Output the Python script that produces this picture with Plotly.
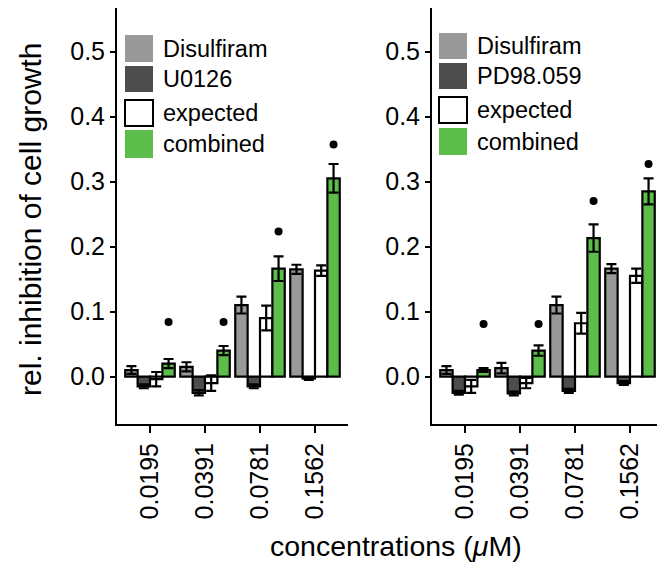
import plotly.graph_objects as go

W, H = 657, 564

concentrations = ["0.0195", "0.0391", "0.0781", "0.1562"]
series_names_left = ["Disulfiram", "U0126", "expected", "combined"]
series_names_right = ["Disulfiram", "PD98.059", "expected", "combined"]

# Left panel (Disulfiram + U0126)
left_disulfiram = [0.010, 0.015, 0.110, 0.165]
left_disulfiram_err = [0.006, 0.007, 0.013, 0.007]
left_u0126 = [-0.015, -0.025, -0.015, -0.003]
left_u0126_err = [0.003, 0.004, 0.003, 0.002]
left_expected = [-0.004, -0.010, 0.090, 0.163]
left_expected_err = [0.011, 0.012, 0.019, 0.008]
left_combined = [0.020, 0.040, 0.166, 0.305]
left_combined_err = [0.007, 0.007, 0.019, 0.022]
left_signif = [0.084, 0.084, 0.223, 0.357]

# Right panel (Disulfiram + PD98.059)
right_disulfiram = [0.010, 0.013, 0.110, 0.166]
right_disulfiram_err = [0.006, 0.008, 0.013, 0.007]
right_pd98059 = [-0.025, -0.026, -0.022, -0.010]
right_pd98059_err = [0.003, 0.003, 0.003, 0.003]
right_expected = [-0.015, -0.010, 0.082, 0.155]
right_expected_err = [0.010, 0.008, 0.016, 0.011]
right_combined = [0.010, 0.040, 0.213, 0.285]
right_combined_err = [0.003, 0.008, 0.021, 0.020]
right_signif = [0.081, 0.081, 0.270, 0.327]

y_ticks = [0.0, 0.1, 0.2, 0.3, 0.4, 0.5]

colors = ["#999999", "#4d4d4d", "#ffffff", "#5cbd4b"]
FONT = "Liberation Sans, Arial, Helvetica, sans-serif"

n_series = 4
bar_w = 0.9 / n_series
offsets = [-0.45 + bar_w * (j + 0.5) for j in range(n_series)]
idx = list(range(len(concentrations)))

fig = go.Figure()

def add_panel(vals, errs, signif, xa, ya):
    for j, (v, e) in enumerate(zip(vals, errs)):
        fig.add_trace(go.Bar(
            x=[i + offsets[j] for i in idx], y=v, width=bar_w,
            marker=dict(color=colors[j], line=dict(color="black", width=2.2)),
            error_y=dict(type="data", array=e, visible=True, color="black",
                         thickness=2.2, width=5),
            xaxis=xa, yaxis=ya, showlegend=False))
    fig.add_trace(go.Scatter(
        x=[i + offsets[3] for i in idx], y=signif, mode="markers",
        marker=dict(color="black", size=8), xaxis=xa, yaxis=ya,
        showlegend=False))

add_panel([left_disulfiram, left_u0126, left_expected, left_combined],
          [left_disulfiram_err, left_u0126_err, left_expected_err, left_combined_err],
          left_signif, "x", "y")
add_panel([right_disulfiram, right_pd98059, right_expected, right_combined],
          [right_disulfiram_err, right_pd98059_err, right_expected_err, right_combined_err],
          right_signif, "x2", "y2")

px_per_unit = 55.0
xl0, xl1 = 117, 348
xr0, xr1 = 432, 657
ytop, ybot = 8, 424

common_x = dict(showline=True, linecolor="black", linewidth=2, showgrid=False,
                zeroline=False, ticks="outside", ticklen=7, tickwidth=2,
                tickcolor="black", tickvals=idx, ticktext=concentrations,
                tickangle=-90, tickfont=dict(family=FONT, size=25, color="black"))
common_y = dict(showline=True, linecolor="black", linewidth=2, showgrid=False,
                zeroline=False, ticks="outside", ticklen=5, tickwidth=2,
                tickcolor="black", tickvals=y_ticks, tickformat=".1f",
                range=[-0.073, 0.567],
                tickfont=dict(family=FONT, size=25, color="black"))

fig.update_layout(
    width=W, height=H, margin=dict(l=0, r=0, t=0, b=0),
    plot_bgcolor="white", paper_bgcolor="white", barmode="overlay",
    xaxis=dict(domain=[xl0 / W, xl1 / W],
               range=[-0.6, -0.6 + (xl1 - xl0) / px_per_unit], anchor="y", **common_x),
    xaxis2=dict(domain=[xr0 / W, xr1 / W],
                range=[-0.6, -0.6 + (xr1 - xr0) / px_per_unit], anchor="y2", **common_x),
    yaxis=dict(domain=[1 - ybot / H, 1 - ytop / H], anchor="x", **common_y),
    yaxis2=dict(domain=[1 - ybot / H, 1 - ytop / H], anchor="x2", **common_y),
)

shapes = []
annotations = []

def add_legend(names, kx0, kx1, rows, tx):
    for j, (name, (r0, r1)) in enumerate(zip(names, rows)):
        shapes.append(dict(type="rect", xref="paper", yref="paper",
                           x0=kx0 / W, x1=kx1 / W, y0=1 - r1 / H, y1=1 - r0 / H,
                           fillcolor=colors[j],
                           line=dict(color="black", width=2 if j == 2 else 0)))
        annotations.append(dict(text=name, xref="paper", yref="paper",
                                x=tx / W, y=1 - (r0 + r1) / 2 / H,
                                xanchor="left", yanchor="middle", showarrow=False,
                                font=dict(family=FONT, size=23.5, color="black")))

add_legend(series_names_left, 125, 153, [(35, 62), (66, 92), (100, 126), (130, 158)], 161)
add_legend(series_names_right, 439, 467, [(33, 59), (63, 89), (97, 123), (128, 155)], 475)

annotations.append(dict(text="rel. inhibition of cell growth", xref="paper", yref="paper",
                        x=30 / W, y=1 - 219 / H, textangle=-90, showarrow=False,
                        xanchor="center", yanchor="middle",
                        font=dict(family=FONT, size=30, color="black")))
annotations.append(dict(text="concentrations (<i>μ</i>M)", xref="paper", yref="paper",
                        x=396 / W, y=1 - 546 / H, showarrow=False,
                        xanchor="center", yanchor="middle",
                        font=dict(family=FONT, size=28.5, color="black")))

fig.update_layout(shapes=shapes, annotations=annotations)
fig.write_html("out.html", config={"displayModeBar": False},
               post_script="document.body.style.margin='0';document.body.style.overflow='hidden';")
